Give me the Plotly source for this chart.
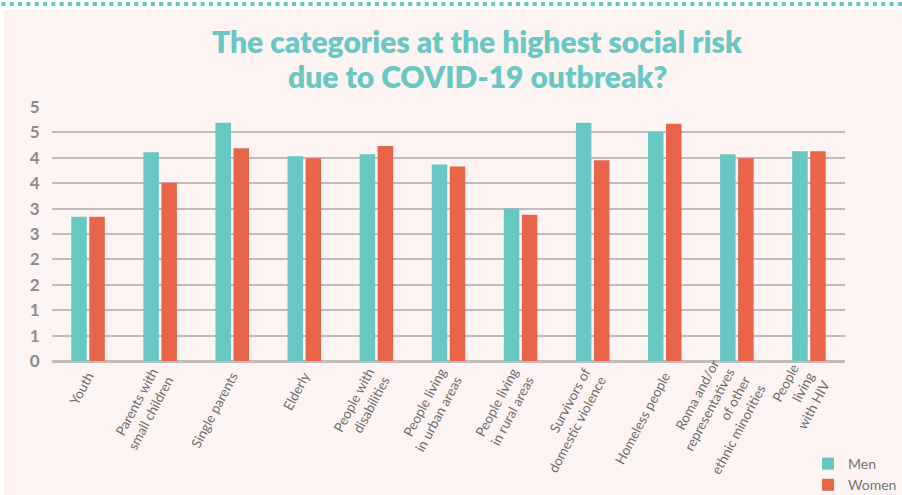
import plotly.graph_objects as go

categories = [
    "Youth",
    "Parents with<br>small children",
    "Single parents",
    "Elderly",
    "People with<br>disabilities",
    "People living<br>in urban areas",
    "People living<br>in rural areas",
    "Survivors of<br>domestic violence",
    "Homeless people",
    "Roma and/or<br>representatives<br>of other<br>ethnic minorities",
    "People<br>living<br>with HIV",
]
men = [2.84, 4.11, 4.69, 4.03, 4.07, 3.87, 3.00, 4.69, 4.51, 4.07, 4.13]
women = [2.84, 3.51, 4.19, 3.99, 4.23, 3.83, 2.88, 3.95, 4.67, 3.99, 4.13]
y_tickvals = [0, 0.5, 1, 1.5, 2, 2.5, 3, 3.5, 4, 4.5, 5]
y_ticktext = ["0", "1", "1", "2", "2", "3", "3", "4", "4", "5", "5"]
title_lines = ["The categories at the highest social risk",
               "due to COVID-19 outbreak?"]

TEAL = "#67C7C3"
ORANGE = "#E9654A"
BG = "#FCF3F2"
GRID = "#BEBCBC"

fig = go.Figure()
fig.add_trace(go.Bar(name="Men", x=categories, y=men, marker_color=TEAL,
                     marker_line_width=0))
fig.add_trace(go.Bar(name="Women", x=categories, y=women, marker_color=ORANGE,
                     marker_line_width=0))

# pixel geometry of the plotting area
L, R, T, B = 52, 57, 107, 134
W, H = 902, 495
pw, ph = W - L - R, H - T - B


def px_x(p):
    return (p - L) / pw


def px_y(p):
    return (H - B - p) / ph


shapes = [
    # pink card behind the chart
    dict(type="rect", xref="paper", yref="paper", layer="below",
         x0=px_x(4), x1=px_x(W + 2), y0=px_y(H + 2), y1=px_y(10),
         fillcolor=BG, line_width=0),
    # dotted border along the top
    dict(type="line", xref="paper", yref="paper",
         x0=px_x(1.5), x1=px_x(W), y0=px_y(4), y1=px_y(4),
         line=dict(color=TEAL, width=4, dash="4px,4.3px")),
]

# two-line heading, each line placed on its own
annotations = [
    dict(text=line, xref="paper", yref="paper", x=px_x(477), y=px_y(yc),
         xanchor="center", yanchor="middle", showarrow=False,
         font=dict(family="Lato", size=30, color="#69C8C4", weight=800))
    for line, yc in zip(title_lines, [41, 76])
]

fig.update_layout(
    width=W, height=H,
    margin=dict(l=L, r=R, t=T, b=B, autoexpand=False),
    paper_bgcolor="white",
    plot_bgcolor="rgba(0,0,0,0)",
    barmode="group",
    bargap=0.5,
    bargroupgap=0.14,
    shapes=shapes,
    annotations=annotations,
    font=dict(family="Lato", color="#6E6E6E"),
    legend=dict(
        xref="container", yref="container",
        x=808 / W, y=1 - 448 / H, xanchor="left", yanchor="top",
        orientation="v", bgcolor="rgba(0,0,0,0)",
        font=dict(size=14, color="#777777"),
        itemwidth=30, tracegroupgap=0,
    ),
    xaxis=dict(
        tickangle=-62,
        tickfont=dict(size=13.5, color="#6E6E6E"),
        showgrid=False,
        showline=True, linecolor=GRID, linewidth=2,
        ticks="", fixedrange=True, automargin=False,
    ),
    yaxis=dict(
        range=[0, 5],
        tickvals=y_tickvals, ticktext=y_ticktext,
        tickfont=dict(size=17, color="#8C8C8C", weight=700),
        showgrid=True, gridcolor=GRID, gridwidth=2,
        zeroline=True, zerolinecolor=GRID, zerolinewidth=2,
        ticks="outside", ticklen=8, tickcolor="rgba(0,0,0,0)",
        fixedrange=True, automargin=False,
    ),
)

fig.write_html("out.html")
